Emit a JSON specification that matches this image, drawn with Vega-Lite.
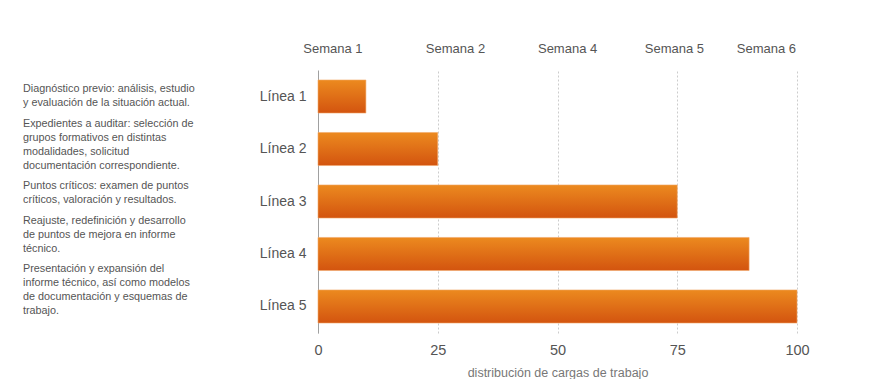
{
  "$schema": "https://vega.github.io/schema/vega-lite/v6.json",
  "padding": {"left": 23, "top": 42, "right": 0, "bottom": 0},
  "spacing": 36,
  "resolve": {"scale": {"yOffset": "independent"}},
  "config": {"view": {"stroke": null}, "font": "Liberation Sans"},
  "datasets": {
    "lineas": [
      {"linea": "Línea 1", "carga": 10},
      {"linea": "Línea 2", "carga": 25},
      {"linea": "Línea 3", "carga": 75},
      {"linea": "Línea 4", "carga": 90},
      {"linea": "Línea 5", "carga": 100}
    ],
    "notas": [
      {"renglon": 1, "bloque": 1, "texto": "Diagnóstico previo: análisis, estudio"},
      {"renglon": 2, "bloque": 1, "texto": "y evaluación de la situación actual."},
      {"renglon": 3, "bloque": 2, "texto": "Expedientes a auditar: selección de"},
      {"renglon": 4, "bloque": 2, "texto": "grupos formativos en distintas"},
      {"renglon": 5, "bloque": 2, "texto": "modalidades, solicitud"},
      {"renglon": 6, "bloque": 2, "texto": "documentación correspondiente."},
      {"renglon": 7, "bloque": 3, "texto": "Puntos críticos: examen de puntos"},
      {"renglon": 8, "bloque": 3, "texto": "críticos, valoración y resultados."},
      {"renglon": 9, "bloque": 4, "texto": "Reajuste, redefinición y desarrollo"},
      {"renglon": 10, "bloque": 4, "texto": "de puntos de mejora en informe"},
      {"renglon": 11, "bloque": 4, "texto": "técnico."},
      {"renglon": 12, "bloque": 5, "texto": "Presentación y expansión del"},
      {"renglon": 13, "bloque": 5, "texto": "informe técnico, así como modelos"},
      {"renglon": 14, "bloque": 5, "texto": "de documentación y esquemas de"},
      {"renglon": 15, "bloque": 5, "texto": "trabajo."}
    ]
  },
  "hconcat": [
    {
      "width": 200,
      "height": 240,
      "data": {"name": "notas"},
      "mark": {"type": "text", "align": "left", "baseline": "middle", "fontSize": 10.8, "color": "#555555"},
      "encoding": {
        "x": {"value": 0},
        "y": {"field": "renglon", "type": "ordinal", "scale": {"type": "point", "padding": 0, "range": [19, 215]}, "axis": null},
        "yOffset": {"field": "bloque", "type": "quantitative", "scale": {"domain": [1, 5], "range": [0, 26]}, "legend": null},
        "text": {"field": "texto"}
      }
    },
    {
      "width": 479,
      "height": 263,
      "data": {"name": "lineas"},
      "resolve": {"axis": {"x": "independent"}},
      "layer": [
        {
          "mark": {
            "type": "bar",
            "color": {
              "gradient": "linear", "x1": 0, "y1": 0, "x2": 0, "y2": 1,
              "stops": [{"offset": 0, "color": "#ec8a1f"}, {"offset": 1, "color": "#d3540f"}]
            },
            "stroke": "#f2a868", "strokeWidth": 0.6
          },
          "encoding": {
            "y": {
              "field": "linea", "type": "nominal",
              "scale": {"paddingInner": 0.37, "paddingOuter": 0.19},
              "axis": {"title": null, "domain": true, "domainColor": "#a0a0a0", "ticks": false, "labelFontSize": 14, "labelColor": "#555555", "labelPadding": 12}
            },
            "x": {
              "field": "carga", "type": "quantitative",
              "scale": {"domain": [0, 100], "nice": false},
              "axis": {
                "orient": "bottom", "values": [0, 25, 50, 75, 100], "grid": true, "gridDash": [2, 2], "gridColor": "#cccccc",
                "domain": false, "ticks": false, "labelFontSize": 14.5, "labelColor": "#555555", "labelPadding": 10, "labelFlush": false,
                "title": "distribución de cargas de trabajo", "titleFontSize": 12.5, "titleColor": "#777777", "titleFontWeight": "normal", "titlePadding": 10
              }
            }
          }
        },
        {
          "mark": {"type": "bar", "opacity": 0},
          "encoding": {
            "y": {"field": "linea", "type": "nominal"},
            "x": {
              "field": "carga", "type": "quantitative",
              "axis": {
                "orient": "top", "values": [3, 28.6, 52, 74.3, 93.5], "grid": false, "domain": false, "ticks": false,
                "labelFontSize": 13, "labelColor": "#555555", "labelPadding": 15, "labelFlush": false, "labelOverlap": false,
                "labelExpr": "datum.value < 10 ? 'Semana 1' : datum.value < 40 ? 'Semana 2' : datum.value < 60 ? 'Semana 4' : datum.value < 80 ? 'Semana 5' : 'Semana 6'",
                "title": null
              }
            }
          }
        }
      ]
    }
  ]
}
